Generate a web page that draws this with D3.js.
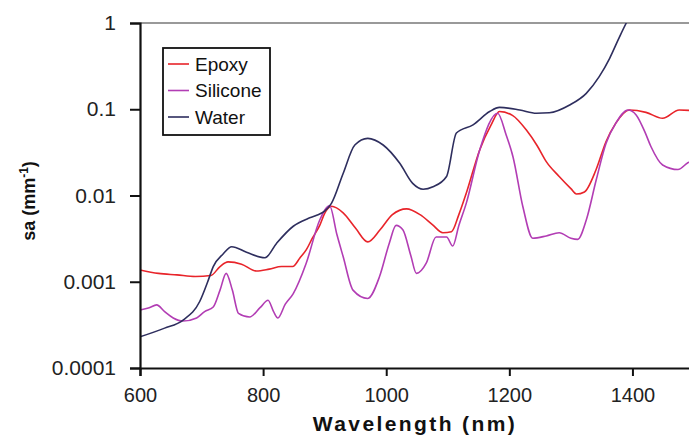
<!DOCTYPE html>
<html>
<head>
<meta charset="utf-8">
<script src="https://cdn.jsdelivr.net/npm/d3@7"></script>
<style>
  body { margin: 0; background: #fff; }
  svg { display: block; font-family: Arial, "Liberation Sans", sans-serif; }
</style>
</head>
<body>
<script>
// chart size
var width = 689;
var height = 441;

// values (wavelength in nm, absorption in mm^-1)
var epoxyWl = [600, 630, 660, 690, 715, 730, 743, 765, 789, 810, 830, 848, 860, 870, 880, 892, 900, 911, 930, 950, 970, 990, 1010, 1033, 1055, 1075, 1092, 1106, 1118, 1130, 1152, 1170, 1184, 1205, 1228, 1245, 1260, 1281, 1300, 1309, 1322, 1341, 1357, 1373, 1395, 1422, 1449, 1476, 1500];
var epoxyVal = [0.00137, 0.00125, 0.0012, 0.00115, 0.00118, 0.0015, 0.0017, 0.0016, 0.00133, 0.0014, 0.0015, 0.0015, 0.0019, 0.00234, 0.0032, 0.0045, 0.0062, 0.0075, 0.0063, 0.0042, 0.0029, 0.004, 0.006, 0.007, 0.006, 0.0046, 0.0037, 0.0038, 0.006, 0.0106, 0.034, 0.065, 0.094, 0.085, 0.057, 0.038, 0.0247, 0.0166, 0.012, 0.0104, 0.011, 0.02, 0.042, 0.069, 0.098, 0.092, 0.0785, 0.098, 0.096];

var siliconeWl = [600, 615, 627, 640, 654, 670, 692, 705, 719, 730, 740, 750, 760, 778, 795, 808, 817, 824, 836, 849, 870, 892, 908, 920, 930, 946, 970, 989, 1005, 1016, 1027, 1040, 1049, 1065, 1081, 1098, 1108, 1118, 1130, 1152, 1181, 1195, 1206, 1222, 1238, 1260, 1281, 1300, 1311, 1325, 1341, 1357, 1373, 1393, 1406, 1420, 1430, 1449, 1474, 1490, 1500];
var siliconeVal = [0.00047, 0.0005, 0.00054, 0.00045, 0.00038, 0.00035, 0.00038, 0.00045, 0.00051, 0.0008, 0.00125, 0.0008, 0.00043, 0.00039, 0.0005, 0.00061, 0.00045, 0.00038, 0.00055, 0.00073, 0.00164, 0.0052, 0.0076, 0.0035, 0.00196, 0.0008, 0.00064, 0.00114, 0.0028, 0.0045, 0.004, 0.002, 0.00125, 0.00164, 0.0033, 0.0033, 0.0026, 0.0045, 0.0081, 0.034, 0.09, 0.05, 0.028, 0.0074, 0.0032, 0.0034, 0.0037, 0.0032, 0.0031, 0.0052, 0.015, 0.04, 0.069, 0.098, 0.086, 0.055, 0.037, 0.0226, 0.02, 0.024, 0.026];

var waterWl = [600, 640, 670, 697, 710, 719, 735, 749, 773, 803, 822, 849, 873, 887, 900, 911, 930, 949, 970, 995, 1022, 1043, 1060, 1076, 1098, 1114, 1141, 1168, 1184, 1217, 1244, 1265, 1298, 1325, 1346, 1363, 1379, 1390, 1400];
var waterVal = [0.00023, 0.00029, 0.00036, 0.00059, 0.001, 0.0015, 0.0021, 0.00255, 0.0022, 0.0019, 0.0028, 0.0044, 0.0054, 0.0059, 0.0066, 0.0081, 0.018, 0.0385, 0.046, 0.0385, 0.0236, 0.0138, 0.0118, 0.0126, 0.0166, 0.053, 0.066, 0.094, 0.105, 0.098, 0.09, 0.091, 0.112, 0.153, 0.239, 0.39, 0.69, 1.0, 1.35];

var seriesNames = ["Epoxy", "Silicone", "Water"];
var seriesColors = ["#e8242a", "#b23db4", "#2e2e5e"];
var xTicks = [600, 800, 1000, 1200, 1400];
var yTicks = [0.0001, 0.001, 0.01, 0.1, 1];

var series = [
  { name: seriesNames[0], color: seriesColors[0], wl: epoxyWl, val: epoxyVal },
  { name: seriesNames[1], color: seriesColors[1], wl: siliconeWl, val: siliconeVal },
  { name: seriesNames[2], color: seriesColors[2], wl: waterWl, val: waterVal }
];

// plot area (right edge runs off the picture like the original)
var plot = { left: 140, top: 23, right: 694, bottom: 368 };

var svg = d3.select("body").append("svg")
  .attr("width", width)
  .attr("height", height);

var xScale = d3.scaleLinear().domain([600, 1500]).range([plot.left, plot.right]);
var yScale = d3.scaleLog().domain([0.0001, 1]).range([plot.bottom, plot.top]);

svg.append("clipPath").attr("id", "clip")
  .append("rect")
  .attr("x", plot.left).attr("y", plot.top)
  .attr("width", plot.right - plot.left).attr("height", plot.bottom - plot.top);

// top frame line
svg.append("line")
  .attr("x1", plot.left).attr("x2", plot.right)
  .attr("y1", plot.top).attr("y2", plot.top)
  .attr("stroke", "#777").attr("stroke-width", 1.5);

// lines
var line = d3.line()
  .curve(d3.curveMonotoneX)
  .x(function(d) { return xScale(d[0]); })
  .y(function(d) { return yScale(d[1]); });

svg.append("g").attr("clip-path", "url(#clip)")
  .selectAll("path")
  .data(series)
  .enter().append("path")
  .attr("d", function(s) { return line(d3.zip(s.wl, s.val)); })
  .attr("fill", "none")
  .attr("stroke", function(s) { return s.color; })
  .attr("stroke-width", 1.6)
  .attr("stroke-linejoin", "round");

// x axis
var xAxis = svg.append("g")
  .attr("transform", "translate(0," + plot.bottom + ")")
  .call(d3.axisBottom(xScale).tickValues(xTicks).tickSize(8).tickPadding(12).tickFormat(d3.format("d")));
xAxis.select(".domain").attr("stroke", "#111").attr("stroke-width", 2.2);
xAxis.selectAll(".tick line").attr("stroke", "#111").attr("stroke-width", 2);
xAxis.selectAll("text").attr("font-size", 20).attr("fill", "#222").attr("font-family", "Arial, 'Liberation Sans', sans-serif");

// y axis
var yAxis = svg.append("g")
  .attr("transform", "translate(" + plot.left + ",0)")
  .call(d3.axisLeft(yScale).tickValues(yTicks).tickSize(10).tickPadding(14).tickFormat(function(d) { return String(d); }));
yAxis.select(".domain").attr("stroke", "#111").attr("stroke-width", 2.2);
yAxis.selectAll(".tick line").attr("stroke", "#111").attr("stroke-width", 2);
yAxis.selectAll("text").attr("font-size", 21).attr("fill", "#222").attr("font-family", "Arial, 'Liberation Sans', sans-serif");

// axis titles
svg.append("text")
  .attr("x", 415).attr("y", 431)
  .attr("text-anchor", "middle")
  .attr("font-size", 21).attr("font-weight", "bold")
  .attr("letter-spacing", 2.4)
  .attr("fill", "#111")
  .text("Wavelength (nm)");

var yTitle = svg.append("text")
  .attr("transform", "translate(35,201) rotate(-90)")
  .attr("text-anchor", "middle")
  .attr("font-size", 18).attr("font-weight", "bold")
  .attr("fill", "#111");
yTitle.append("tspan").text("sa (mm");
yTitle.append("tspan").attr("font-size", 12).attr("dy", -7).text("-1");
yTitle.append("tspan").attr("dy", 7).text(")");

// legend
var legend = svg.append("g");
legend.append("rect")
  .attr("x", 163).attr("y", 48).attr("width", 107).attr("height", 87)
  .attr("fill", "#fff").attr("stroke", "#111").attr("stroke-width", 1.8);

var item = legend.selectAll("g.item")
  .data(series)
  .enter().append("g")
  .attr("class", "item")
  .attr("transform", function(d, i) { return "translate(0," + (64 + i * 26.5) + ")"; });
item.append("line")
  .attr("x1", 168).attr("x2", 189)
  .attr("stroke", function(d) { return d.color; })
  .attr("stroke-width", 1.6);
item.append("text")
  .attr("x", 195).attr("dy", "0.35em")
  .attr("font-size", 19).attr("fill", "#111")
  .text(function(d) { return d.name; });
</script>
</body>
</html>
